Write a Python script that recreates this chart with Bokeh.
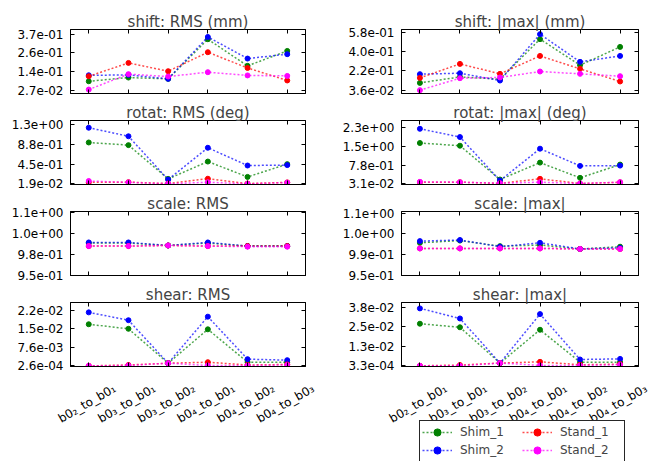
import numpy as np
from bokeh.plotting import figure
from bokeh.models import (Range1d, FixedTicker, LinearAxis,
                          ColumnDataSource, Legend, LegendItem)
from bokeh.layouts import column, row
from bokeh.embed import file_html
from bokeh.resources import INLINE
from bokeh.core.properties import value

FONT = "DejaVu Sans"

# ---------------- data ----------------
pairs = ["b0\u2082_to_b0\u2081", "b0\u2083_to_b0\u2081", "b0\u2083_to_b0\u2082",
         "b0\u2084_to_b0\u2081", "b0\u2084_to_b0\u2082", "b0\u2084_to_b0\u2083"]

series_names = ["Shim_1", "Shim_2", "Stand_1", "Stand_2"]
series_colors = ["#008000", "#0000ff", "#ff0000", "#ff00ff"]

shift_rms = {
    "Shim_1": [0.082, 0.105, 0.097, 0.341, 0.177, 0.269],
    "Shim_2": [0.119, 0.121, 0.097, 0.355, 0.222, 0.249],
    "Stand_1": [0.113, 0.195, 0.144, 0.261, 0.164, 0.087],
    "Stand_2": [0.031, 0.126, 0.111, 0.138, 0.118, 0.115],
}
shift_max = {
    "Shim_1": [0.105, 0.161, 0.140, 0.517, 0.272, 0.444],
    "Shim_2": [0.187, 0.196, 0.127, 0.564, 0.303, 0.359],
    "Stand_1": [0.152, 0.284, 0.190, 0.359, 0.237, 0.118],
    "Stand_2": [0.036, 0.149, 0.156, 0.212, 0.190, 0.168],
}
rotat_rms = {
    "Shim_1": [0.918, 0.860, 0.126, 0.503, 0.169, 0.447],
    "Shim_2": [1.239, 1.053, 0.111, 0.803, 0.417, 0.426],
    "Stand_1": [0.050, 0.055, 0.025, 0.130, 0.025, 0.050],
    "Stand_2": [0.080, 0.050, 0.020, 0.053, 0.019, 0.045],
}
rotat_max = {
    "Shim_1": [1.660, 1.553, 0.202, 0.877, 0.269, 0.798],
    "Shim_2": [2.229, 1.899, 0.162, 1.434, 0.746, 0.758],
    "Stand_1": [0.095, 0.095, 0.050, 0.230, 0.043, 0.090],
    "Stand_2": [0.110, 0.095, 0.055, 0.095, 0.043, 0.095],
}
scale_rms = {
    "Shim_1": [1.000, 1.000, 0.996, 1.000, 0.995, 0.995],
    "Shim_2": [1.001, 1.001, 0.996, 1.001, 0.995, 0.995],
    "Stand_1": [0.995, 0.995, 0.996, 0.995, 0.995, 0.995],
    "Stand_2": [0.995, 0.995, 0.996, 0.995, 0.994, 0.994],
}
scale_max = {
    "Shim_1": [1.008, 1.012, 1.002, 1.004, 0.997, 1.001],
    "Shim_2": [1.011, 1.013, 1.001, 1.008, 0.997, 0.999],
    "Stand_1": [0.998, 0.998, 0.998, 0.998, 0.997, 0.997],
    "Stand_2": [0.998, 0.998, 0.998, 0.998, 0.997, 0.997],
}
shear_rms = {
    "Shim_1": [0.0167, 0.0149, 0.0013, 0.0147, 0.0017, 0.0017],
    "Shim_2": [0.0214, 0.0183, 0.0013, 0.0197, 0.0029, 0.0025],
    "Stand_1": [0.00026, 0.0006, 0.0013, 0.0017, 0.0006, 0.0008],
    "Stand_2": [0.00026, 0.0004, 0.0013, 0.0004, 0.0004, 0.0006],
}
shear_max = {
    "Shim_1": [0.0275, 0.0252, 0.0021, 0.0236, 0.0027, 0.0027],
    "Shim_2": [0.0374, 0.0309, 0.0021, 0.0337, 0.0044, 0.0048],
    "Stand_1": [0.00033, 0.0008, 0.0021, 0.0029, 0.0010, 0.0014],
    "Stand_2": [0.00033, 0.0003, 0.0021, 0.0006, 0.0006, 0.0010],
}

titles = ["shift: RMS (mm)", "shift: |max| (mm)",
          "rotat: RMS (deg)", "rotat: |max| (deg)",
          "scale: RMS", "scale: |max|",
          "shear: RMS", "shear: |max|"]
panel_data = [shift_rms, shift_max, rotat_rms, rotat_max,
              scale_rms, scale_max, shear_rms, shear_max]

# y tick span (first, last) and tick labels per panel
y_tick_span = [(0.027, 0.372), (0.036, 0.58), (0.019, 1.31), (0.031, 2.28),
               (0.947, 1.0505), (0.95, 1.061), (0.00026, 0.0223), (0.00033, 0.038)]
y_tick_labels = [
    ["2.7e-02", "1.4e-01", "2.6e-01", "3.7e-01"],
    ["3.6e-02", "2.2e-01", "4.0e-01", "5.8e-01"],
    ["1.9e-02", "4.5e-01", "8.8e-01", "1.3e+00"],
    ["3.1e-02", "7.8e-01", "1.5e+00", "2.3e+00"],
    ["9.5e-01", "9.8e-01", "1.0e+00", "1.1e+00"],
    ["9.5e-01", "9.9e-01", "1.0e+00", "1.1e+00"],
    ["2.6e-04", "7.6e-03", "1.5e-02", "2.2e-02"],
    ["3.3e-04", "1.3e-02", "2.5e-02", "3.8e-02"],
]
y_limits = [(0.0067, 0.401), (0.0049, 0.608), (0.004, 1.396), (0.003, 2.56),
            (0.9465, 1.052), (0.9495, 1.064), (0.0, 0.0253), (-0.00012, 0.0412)]

x_idx = list(range(len(pairs)))

# ---------------- layout constants (page starts at 0,0) ----------------
X_LO, X_HI = -0.46, 5.46
FRAME_W = [235, 237]
BORDER_L = [70, 76]
BORDER_R = [20, 16]
FIRST_TOP_B, TOP_B, FRAME_H, BOT_B = 29, 19, 64, 8
STRIP_H = 87
LEG_X, LEG_TOP = 94, 48


def style_axis(ax, ticks, show_labels):
    ax.ticker = FixedTicker(ticks=ticks)
    ax.major_tick_in = 4
    ax.major_tick_out = 0
    ax.minor_tick_in = 0
    ax.minor_tick_out = 0
    ax.axis_line_color = "black"
    ax.major_tick_line_color = "black"
    ax.axis_label = None
    if show_labels:
        ax.major_label_text_font = FONT
        ax.major_label_text_font_size = "12px"
        ax.major_label_text_color = "black"
        ax.major_label_standoff = 7
    else:
        ax.major_label_text_font_size = "0px"
        ax.major_label_text_color = None
        ax.major_label_standoff = 0


figs = []
for i, (title, data) in enumerate(zip(titles, panel_data)):
    col = i % 2
    p = figure(frame_width=FRAME_W[col], frame_height=FRAME_H,
               min_border_left=BORDER_L[col], min_border_right=BORDER_R[col],
               min_border_top=FIRST_TOP_B if i < 2 else TOP_B,
               min_border_bottom=BOT_B,
               x_range=Range1d(X_LO, X_HI), y_range=Range1d(*y_limits[i]),
               output_backend="svg", toolbar_location=None, title=title)
    p.title.text_font = FONT
    p.title.text_font_size = "15px"
    p.title.text_font_style = "normal"
    p.title.align = "center"
    p.title.standoff = -2
    p.xgrid.visible = False
    p.ygrid.visible = False
    p.outline_line_color = "black"
    p.outline_line_width = 1
    p.outline_line_alpha = 1

    yt = [float(v) for v in np.linspace(y_tick_span[i][0], y_tick_span[i][1], 4)]
    style_axis(p.xaxis[0], x_idx, False)
    style_axis(p.yaxis[0], yt, True)
    p.yaxis[0].major_label_overrides = {t: lab for t, lab in zip(yt, y_tick_labels[i])}

    top_ax = LinearAxis()
    style_axis(top_ax, x_idx, False)
    p.add_layout(top_ax, "above")
    right_ax = LinearAxis()
    style_axis(right_ax, yt, False)
    p.add_layout(right_ax, "right")

    for name, color in zip(series_names, series_colors):
        src = ColumnDataSource(dict(x=x_idx, y=data[name]))
        p.line("x", "y", source=src, line_color=color, line_dash="2 2",
               line_width=1.5, line_alpha=0.7)
        p.scatter("x", "y", source=src, size=5, fill_color=color, line_color=color)
    figs.append(p)

# ---------------- bottom strips: rotated category labels (+ legend) ----------------
strips = []
for col in range(2):
    unit = FRAME_W[col] / (X_HI - X_LO)
    xr = Range1d(X_LO - BORDER_L[col] / unit, X_HI + BORDER_R[col] / unit)
    s = figure(width=BORDER_L[col] + FRAME_W[col] + BORDER_R[col], height=STRIP_H,
               min_border=0, x_range=xr, y_range=Range1d(-STRIP_H, 0),
               x_axis_location=None, y_axis_location=None,
               output_backend="svg", toolbar_location=None)
    s.xgrid.visible = False
    s.ygrid.visible = False
    s.outline_line_color = None
    lab_src = ColumnDataSource(dict(x=x_idx, text=pairs))
    s.text(x="x", y=-13, text="text", source=lab_src, angle=30, angle_units="deg",
           text_align="right", text_baseline="middle", x_offset=26,
           text_font=value(FONT), text_font_size="12px", text_color="black")
    if col == 1:
        items = []
        for name, color in zip(series_names, series_colors):
            src = ColumnDataSource(dict(x=x_idx, y=shear_max[name]))
            ln = s.line("x", "y", source=src, line_color=color, line_dash="2 2",
                        line_width=1.5, line_alpha=0.7, visible=False)
            sc = s.scatter("x", "y", source=src, size=5, fill_color=color,
                           line_color=color, visible=False)
            items.append(LegendItem(label=name, renderers=[ln, sc]))
        pad, row_h = 2, 18
        leg_h = 2 * pad + 2 * row_h
        legend = Legend(items=items, ncols=2,
                        location=(LEG_X, STRIP_H - LEG_TOP - leg_h))
        legend.border_line_color = "black"
        legend.border_line_width = 1
        legend.border_line_alpha = 0.85
        legend.background_fill_color = "white"
        legend.background_fill_alpha = 1
        legend.inactive_fill_alpha = 0
        legend.label_text_font = FONT
        legend.label_text_font_size = "12px"
        legend.glyph_width = 30
        legend.glyph_height = row_h
        legend.label_height = row_h
        legend.label_width = 62
        legend.label_standoff = 8
        legend.padding = pad
        legend.spacing = 0
        legend.margin = 0
        s.add_layout(legend)
    strips.append(s)

layout = column(*[row(figs[2 * r], figs[2 * r + 1]) for r in range(4)],
                row(strips[0], strips[1]))

open("out.html", "w").write(file_html(layout, INLINE))
